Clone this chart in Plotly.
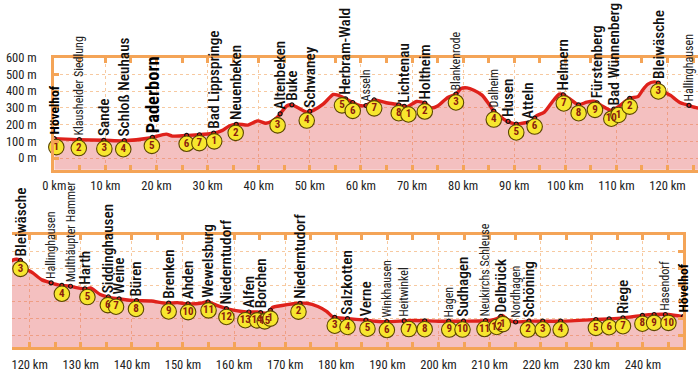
import subprocess
import numpy as np
import plotly.graph_objects as go

# ---------------- data ----------------
# elevation profile: distance (km) and height (m)
profile_km = [0, 4.5, 10, 13.5, 18.7, 21.9, 23.1, 25.7, 28.3, 31.1, 32.8, 34.3, 35.9, 37.9,
              39.8, 41.4, 42.7, 43.7, 44.6, 45.6, 46.5, 47.8, 49.4, 50.7, 52.6, 54.6, 55.5,
              56.5, 58.4, 59.7, 61, 62.6, 64.8, 67.4, 69, 70.9, 72.5, 73.8, 75.1, 77, 78.6,
              79.6, 80.8, 82.1, 83.7, 85, 86, 88.5, 90.4, 92.4, 93.3, 94.3, 95.9, 97.5, 98.8,
              99.4, 100.7, 102.6, 104.2, 105.8, 107.1, 109, 110.3, 112.6, 114.2, 115.1, 116.1,
              117.4, 118.2, 119.2, 120.6, 122.4, 124, 125.8, 127.7, 129.4, 131, 131.9, 133.8,
              135.8, 137.7, 140.6, 143.8, 146.7, 148.9, 150.8, 153.4, 154.8, 156.6, 158.5,
              160.4, 162.4, 164.6, 165.6, 166.7, 167.5, 169.4, 172.6, 174.2, 176.4, 178.1,
              179.4, 181.9, 185.8, 187.7, 190, 195, 200, 205, 210, 211.5, 212.5, 213.5, 215,
              217.5, 224, 230.8, 233.4, 236.1, 239.9, 242.2, 245, 247.9]
profile_m = [116, 110, 106, 103, 120, 143, 131, 135, 139, 148, 164, 193, 203, 197,
             222, 208, 222, 245, 280, 314, 318, 299, 274, 285, 322, 380, 376,
             362, 332, 314, 314, 347, 332, 318, 305, 338, 328, 299, 313, 362, 382,
             415, 419, 405, 376, 324, 280, 222, 203, 212, 208, 251, 274, 338, 382,
             382, 357, 318, 334, 338, 313, 285, 305, 357, 367, 405, 440,
             455, 448, 400, 374, 332, 316, 300, 296, 284, 277, 284, 245,
             226, 218, 208, 206, 192, 196, 189, 192, 202, 179, 160,
             148, 140, 140, 134, 134, 167, 179, 192, 192, 173, 144,
             109, 101, 91, 85, 82, 89, 85, 85, 89, 101, 120, 95, 80,
             85, 85, 95, 99, 105, 120, 125, 125, 112]

# place names along the route
place_km = [0.0, 4.9, 9.7, 13.7, 19.2, 31.2, 35.6, 44.2, 46.5, 50.0, 57.0, 61.0, 68.5,
            72.5, 78.6, 86.0, 88.8, 92.8, 99.6, 106.2, 109.5, 118.2, 124.2,
            128.0, 130.8, 135.4, 137.5, 140.9, 147.2, 151.0, 154.9, 158.5, 162.9, 165.2,
            172.9, 182.2, 185.8, 189.9, 193.3, 202.0, 204.9, 209.2, 212.2, 215.1, 217.7,
            236.1, 244.4, 247.9]
place_name = ["Hövelhof", "Klausheider Siedlung", "Sande", "Schloß Neuhaus", "Paderborn",
              "Bad Lippspringe", "Neuenbeken", "Altenbeken", "Buke", "Schwaney",
              "Herbram-Wald", "Asseln", "Lichtenau", "Holtheim", "Blankenrode", "Dalheim",
              "Husen", "Atteln", "Helmern", "Fürstenberg", "Bad Wünnenberg", "Bleiwäsche",
              "Hallinghausen", "Multhäupter Hammer", "Harth", "Siddinghausen", "Weine",
              "Büren", "Brenken", "Ahden", "Wewelsburg", "Niederntudorf", "Alfen", "Borchen",
              "Niederntudorf", "Salzkotten", "Verne", "Winkhausen", "Heitwinkel", "Hagen",
              "Sudhagen", "Neukirchs Schleuse", "Delbrück", "Nordhagen", "Schöning", "Riege",
              "Hasendorf", "Hövelhof"]
# B = big bold, b = bold, r = regular, s = small
place_style = ["b", "s", "r", "r", "B", "r", "r", "r", "r", "r", "r", "s", "r", "r", "s", "s",
               "r", "r", "r", "r", "r", "r", "s", "s", "r", "r", "r", "r", "r", "r", "r", "r",
               "r", "r", "r", "r", "r", "s", "s", "s", "r", "s", "r", "s", "r", "r", "s", "b"]

# numbered stage points
stop_km = [0.4, 4.8, 9.8, 13.5, 19.1, 25.9, 28.4, 31.3, 35.5, 43.7, 49.4, 56.3, 58.4, 62.6,
           67.4, 69.3, 72.5, 78.6, 86.0, 90.4, 94.0, 99.7, 102.6, 105.8, 109.0, 110.4, 112.6,
           118.2, 126.3, 131.3, 135.3, 136.9, 140.8, 147.2, 151.0, 155.0, 158.5, 162.2,
           164.5, 166.0, 167.1, 172.6, 179.7, 182.2, 186.1, 189.9, 194.2, 197.3, 202.1,
           204.7, 209.0, 211.4, 212.6, 217.5, 220.4, 223.9, 230.8, 233.4, 236.1, 239.9,
           242.2, 245.0, 248.0]
stop_num = ["1", "2", "3", "4", "5", "6", "7", "1", "2", "3", "4", "5", "6", "7",
            "8", "1", "2", "3", "4", "5", "6", "7", "8", "9", "10", "1", "2",
            "3", "4", "5", "6", "7", "8", "9", "10", "11", "12", "13",
            "14", "15", "1", "2", "3", "4", "5", "6", "7", "8", "9",
            "10", "11", "12", "1", "2", "3", "4", "5", "6", "7", "8",
            "9", "10", "1"]

top_km_ticks = list(range(0, 121, 10))
bottom_km_ticks = list(range(120, 241, 10))
height_ticks = list(range(0, 601, 100))

# ---------------- font choice ----------------
try:
    fams = subprocess.run(["fc-list", ":", "family"], capture_output=True,
                          text=True).stdout
    fam_set = set()
    for line in fams.splitlines():
        for f in line.split(","):
            fam_set.add(f.strip())
except Exception:
    fam_set = set()
candidates = [("Roboto Condensed", 1.0), ("Fira Sans Condensed", 0.93),
              ("Archivo Narrow", 1.0), ("PT Sans Narrow", 1.05),
              ("Liberation Sans Narrow", 1.0), ("Roboto", 0.85)]
FAMILY, SCALE = "Roboto", 0.85
for name, sc in candidates:
    if name in fam_set:
        FAMILY, SCALE = name, sc
        break
FONT = f"{FAMILY}, Roboto, sans-serif"

# ---------------- style ----------------
W, H = 698, 375
ORANGE = "#f4a457"
GRID = "#f7c9a0"
RED = "#df211b"
FILL = "rgba(226,84,84,0.37)"
YELLOW = "#f7e62e"
NUMCOL = "#8a1d0e"
Y_RANGE = [-70, 600]
CIRCLE_DROP = 50  # metres below the line for the numbered circles

pk = np.array(profile_km)
pm = np.array(profile_m)

panels = [
    dict(xa="x", ya="y", rng=[0, 125.96], dom_x=[43 / W, 1.0],
         dom_y=[(H - 165.3) / H, (H - 50.7) / H]),
    dict(xa="x2", ya="y2", rng=[116.54, 247.9], dom_x=[0.0, 683 / W],
         dom_y=[(H - 346.5) / H, (H - 232) / H]),
]

fig = go.Figure()
annotations = []

# dots: every place plus stops that are not at a named place
dot_km = list(place_km) + [k for k in stop_km if min(abs(k - p) for p in place_km) > 1.0]

for p in panels:
    lo, hi = p["rng"]
    fig.add_trace(go.Scatter(x=profile_km, y=[-1000] * len(profile_km), xaxis=p["xa"],
                             yaxis=p["ya"], mode="lines", line=dict(width=0),
                             hoverinfo="skip", showlegend=False))
    fig.add_trace(go.Scatter(x=profile_km, y=profile_m, xaxis=p["xa"], yaxis=p["ya"],
                             mode="lines", fill="tonexty", fillcolor=FILL,
                             line=dict(color=RED, width=3.4, shape="spline", smoothing=0.6),
                             hoverinfo="skip", showlegend=False))
    dk = [k for k in dot_km if lo - 0.5 <= k <= hi + 0.5]
    fig.add_trace(go.Scatter(x=dk, y=np.interp(dk, pk, pm), xaxis=p["xa"], yaxis=p["ya"],
                             mode="markers", cliponaxis=False,
                             marker=dict(symbol="circle-open", size=4, color="#111",
                                         line=dict(width=1.2)),
                             hoverinfo="skip", showlegend=False))
    sel = [i for i, k in enumerate(stop_km) if lo - 2 <= k <= hi + 2]
    sk = [stop_km[i] for i in sel]
    fig.add_trace(go.Scatter(x=sk, y=np.interp(sk, pk, pm) - CIRCLE_DROP,
                             xaxis=p["xa"], yaxis=p["ya"], mode="markers+text",
                             cliponaxis=False, text=[stop_num[i] for i in sel],
                             textposition="middle center",
                             textfont=dict(family=FONT, size=11 * SCALE, color=NUMCOL,
                                           weight="bold"),
                             marker=dict(size=15.5, color=YELLOW,
                                         line=dict(color="#5a4500", width=1.1)),
                             hoverinfo="skip", showlegend=False))
    for k, name, st in zip(place_km, place_name, place_style):
        if not (lo - 0.5 <= k <= hi + 0.5):
            continue
        if st == "B":
            f = dict(family=FONT, size=18.5 * SCALE, color="#000", weight="bold")
        elif st == "b":
            f = dict(family=FONT, size=13.5 * SCALE, color="#000", weight="bold")
        elif st == "r":
            f = dict(family=FONT, size=15.3 * SCALE, color="#111", weight=500)
        else:
            f = dict(family=FONT, size=12 * SCALE, color="#222", weight=400)
        annotations.append(dict(x=k, y=float(np.interp(k, pk, pm)), xref=p["xa"],
                                yref=p["ya"], text=name, textangle=-90, showarrow=False,
                                xanchor="center", yanchor="bottom", yshift=3, font=f,
                                borderpad=0))

axis_common = dict(showline=True, linecolor=ORANGE, linewidth=3, ticks="inside",
                   ticklen=5, tickwidth=3, tickcolor=ORANGE, showgrid=True,
                   gridcolor=GRID, griddash="dot", gridwidth=1, zeroline=False,
                   fixedrange=True)
tick_font = dict(size=12.5 * SCALE, family=FONT, color="#222")

fig.update_layout(
    width=W, height=H, margin=dict(l=0, r=0, t=0, b=0),
    paper_bgcolor="white", plot_bgcolor="white", showlegend=False,
    font=dict(family=FONT, size=12, color="#222"),
    annotations=annotations,
    xaxis=dict(**axis_common, domain=panels[0]["dom_x"], range=panels[0]["rng"],
               anchor="y", tickmode="array", tickvals=top_km_ticks,
               ticktext=[f"{v} km" for v in top_km_ticks], mirror="ticks",
               ticklabelstandoff=2, tickfont=tick_font,
               minor=dict(dtick=5, tick0=0, ticks="inside", ticklen=5, tickwidth=3,
                          tickcolor=ORANGE, showgrid=False)),
    yaxis=dict(**axis_common, domain=panels[0]["dom_y"], range=Y_RANGE, anchor="x",
               tickmode="array", tickvals=height_ticks,
               ticktext=[f"{v} m" for v in height_ticks], side="left", mirror=False,
               ticklabelstandoff=12, tickfont=tick_font),
    xaxis2=dict(**axis_common, domain=panels[1]["dom_x"], range=panels[1]["rng"],
                anchor="y2", tickmode="array", tickvals=bottom_km_ticks,
                ticktext=[f"{v} km" for v in bottom_km_ticks], mirror="ticks",
                ticklabelstandoff=4, tickfont=tick_font,
                minor=dict(dtick=5, tick0=0, ticks="inside", ticklen=5, tickwidth=3,
                           tickcolor=ORANGE, showgrid=False)),
    yaxis2=dict(**axis_common, domain=panels[1]["dom_y"], range=Y_RANGE, anchor="x2",
                tickvals=height_ticks, side="right", mirror=False, showticklabels=False),
)

fig.write_html("out.html", post_script="document.body.style.margin='0';",
               config={"displayModeBar": False})
